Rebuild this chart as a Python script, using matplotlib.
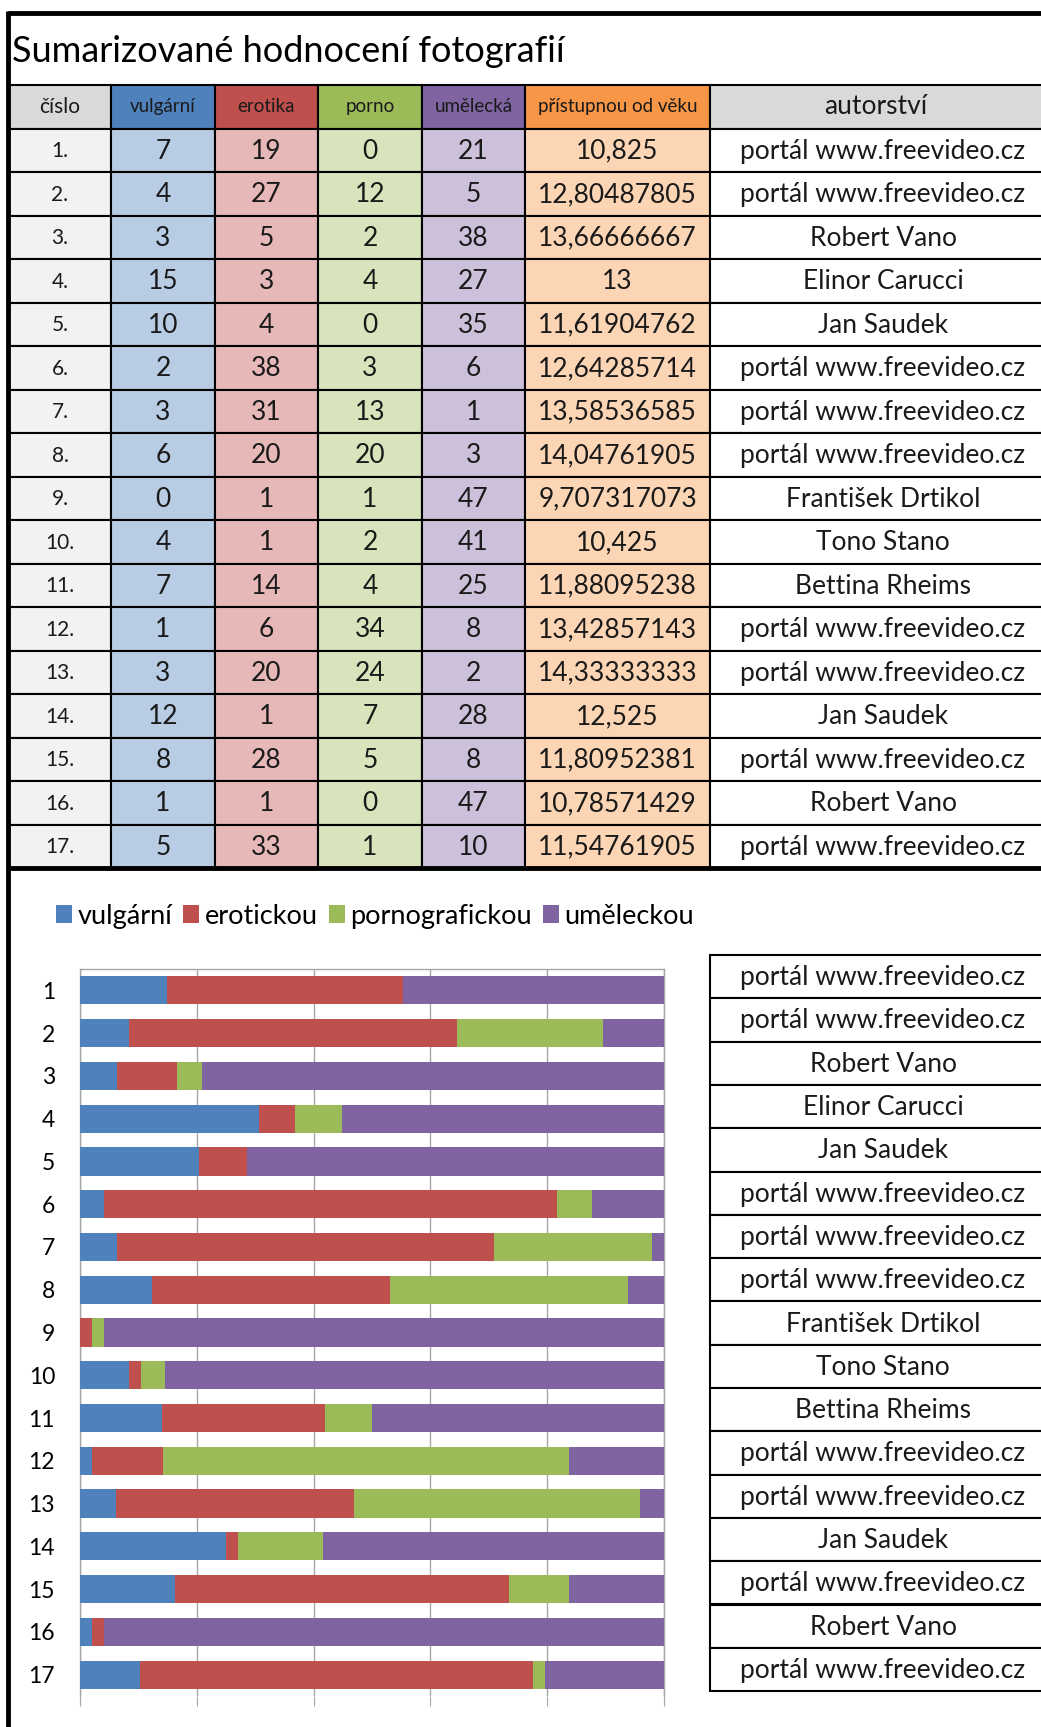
import matplotlib
matplotlib.use("Agg")
import matplotlib.pyplot as plt
from matplotlib.patches import Rectangle
import numpy as np

plt.rcParams['font.family'] = ['Lato', 'DejaVu Sans']

cislo = ["%d." % i for i in range(1, 18)]
vulgarni = [7, 4, 3, 15, 10, 2, 3, 6, 0, 4, 7, 1, 3, 12, 8, 1, 5]
erotika = [19, 27, 5, 3, 4, 38, 31, 20, 1, 1, 14, 6, 20, 1, 28, 1, 33]
porno = [0, 12, 2, 4, 0, 3, 13, 20, 1, 2, 4, 34, 24, 7, 5, 0, 1]
umelecka = [21, 5, 38, 27, 35, 6, 1, 3, 47, 41, 25, 8, 2, 28, 8, 47, 10]
vek = ["10,825", "12,80487805", "13,66666667", "13", "11,61904762", "12,64285714",
       "13,58536585", "14,04761905", "9,707317073", "10,425", "11,88095238",
       "13,42857143", "14,33333333", "12,525", "11,80952381", "10,78571429",
       "11,54761905"]
autor = ["portál www.freevideo.cz", "portál www.freevideo.cz", "Robert Vano",
         "Elinor Carucci", "Jan Saudek", "portál www.freevideo.cz",
         "portál www.freevideo.cz", "portál www.freevideo.cz", "František Drtikol",
         "Tono Stano", "Bettina Rheims", "portál www.freevideo.cz",
         "portál www.freevideo.cz", "Jan Saudek", "portál www.freevideo.cz",
         "Robert Vano", "portál www.freevideo.cz"]
headers = ["číslo", "vulgární", "erotika", "porno", "umělecká", "přístupnou od věku", "autorství"]
legend_labels = ["vulgární", "erotickou", "pornografickou", "uměleckou"]

head_colors = ["#D9D9D9", "#4F81BD", "#C0504D", "#9BBB59", "#8064A2", "#F79646", "#D9D9D9"]
cell_colors = ["#F2F2F2", "#B8CCE4", "#E6B9B8", "#D7E4BC", "#CCC0DA", "#FCD5B4", "#FFFFFF"]
bar_colors = ["#4F81BD", "#C0504D", "#9BBB59", "#8064A2"]

W, H = 1041, 1727
fig = plt.figure(figsize=(W / 100, H / 100), dpi=100)
bg = fig.add_axes([0, 0, 1, 1])
bg.set_xlim(0, W)
bg.set_ylim(H, 0)
bg.axis('off')

# outer frame
bg.plot([8, W], [13, 13], color='black', lw=3.5, solid_capstyle='butt')
bg.plot([8, 8], [11, H], color='black', lw=3.5, solid_capstyle='butt')
bg.text(12, 51, "Sumarizované hodnocení fotografií", fontsize=26, va='center', ha='left')

# top table
col_x = [9, 111, 215, 318, 422, 525, 710, 1060]
top = 85
rh = 43.5
for j in range(7):
    x0, x1 = col_x[j], col_x[j + 1]
    bg.add_patch(Rectangle((x0, top), x1 - x0, rh, facecolor=head_colors[j],
                           edgecolor='black', lw=1.5))
    fs = 19 if j == 6 else (13.5 if j > 0 else 15)
    bg.text((x0 + min(x1, W + 8)) / 2 - (4 if j == 6 else 0), top + rh / 2, headers[j],
            fontsize=fs, ha='center', va='center', color='#1a1a1a')

rows = list(zip(cislo, vulgarni, erotika, porno, umelecka, vek, autor))
for i, row in enumerate(rows):
    y0 = top + rh * (i + 1)
    for j in range(7):
        x0, x1 = col_x[j], col_x[j + 1]
        bg.add_patch(Rectangle((x0, y0), x1 - x0, rh, facecolor=cell_colors[j],
                               edgecolor='black', lw=1.5))
        fs = 15 if j == 0 else 19
        cx = (x0 + x1) / 2 if j < 6 else 883
        bg.text(cx, y0 + rh / 2 + 1, str(row[j]), fontsize=fs, ha='center',
                va='center', color='#1a1a1a')
table_bottom = top + rh * 18
bg.plot([8, W], [table_bottom, table_bottom], color='black', lw=3.5, solid_capstyle='butt')

# author boxes next to the chart
box_top = 955
bh = 43.3
for i, a in enumerate(autor):
    y0 = box_top + bh * i
    bg.add_patch(Rectangle((710, y0), 350, bh, facecolor='white', edgecolor='black', lw=1.5))
    bg.text(883, y0 + bh / 2 + 1, a, fontsize=19, ha='center', va='center', color='#1a1a1a')

# 100% stacked bar chart
ax = fig.add_axes([80 / W, 1 - 1696 / H, (664 - 80) / W, (1696 - 969) / H])
data = np.array([vulgarni, erotika, porno, umelecka], dtype=float)
share = data / data.sum(axis=0)
y = np.arange(1, 18)
left = np.zeros(17)
for k in range(4):
    ax.barh(y, share[k], left=left, height=0.66, color=bar_colors[k],
            label=legend_labels[k], zorder=3)
    left += share[k]
ax.set_xlim(0, 1)
ax.set_ylim(17.5, 0.5)
ax.set_xticks(np.linspace(0, 1, 6))
ax.set_xticklabels([])
ax.xaxis.grid(True, color='#A6A6A6', lw=1)
ax.tick_params(axis='x', length=7, color='#A6A6A6', direction='out')
ax.set_yticks(y)
ax.set_yticklabels([str(v) for v in y], fontsize=16.5)
ax.tick_params(axis='y', length=0, pad=18)
for s in ax.spines.values():
    s.set_color('#A6A6A6')
    s.set_linewidth(1)
ax.spines['bottom'].set_visible(False)

handles, labels = ax.get_legend_handles_labels()
fig.legend(handles, labels, loc='center left', bbox_to_anchor=(45 / W, 1 - 916 / H),
           ncol=4, frameon=False, fontsize=19.5, handlelength=0.6, handleheight=0.6,
           handletextpad=0.2, columnspacing=0.4, borderaxespad=0)

fig.savefig("out.png", dpi=100)
